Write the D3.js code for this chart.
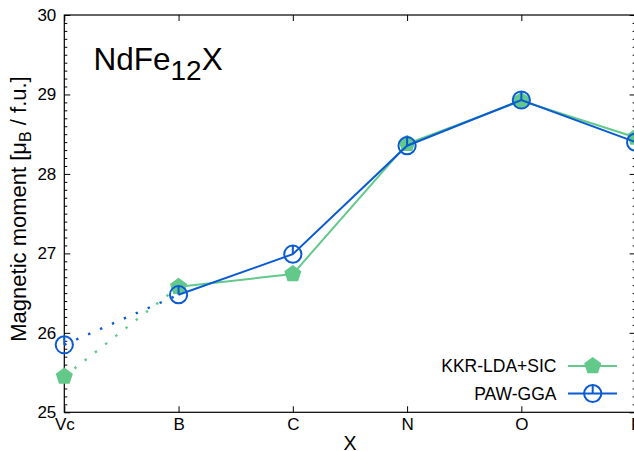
<!DOCTYPE html>
<html>
<head>
<meta charset="utf-8">
<script src="https://cdn.jsdelivr.net/npm/d3@7"></script>
<style>
  html, body { margin: 0; padding: 0; background: #fff; }
  svg { display: block; font-family: "Liberation Sans", Arial, Helvetica, sans-serif; }
</style>
</head>
<body>
<svg id="chart" width="634" height="451"></svg>
<script>
// Substituent X placed in NdFe12X
const categories = ["Vc", "B", "C", "N", "O", "F"];

// Magnetic moment per formula unit (μB / f.u.)
const kkrLdaSic = [25.45, 26.58, 26.74, 28.38, 28.92, 28.46];
const pawGga    = [25.85, 26.48, 26.99, 28.355, 28.93, 28.40];

const yMajorTicks = [25, 26, 27, 28, 29, 30];

const seriesNames = ["KKR-LDA+SIC", "PAW-GGA"];

const GREEN = "#62c98b";
const BLUE = "#0a5ad2";

const svg = d3.select("#chart");
const plotLeft = 64.3, plotRight = 635.6, plotTop = 15, plotBottom = 412.3;

const x = d3.scalePoint().domain(categories).range([plotLeft, plotRight]);
const y = d3.scaleLinear().domain([25, 30]).range([plotBottom, plotTop]);

// minor ticks every 0.1
const yMinorTicks = d3.range(250, 301).map(v => v / 10).filter(v => !yMajorTicks.includes(v));

function styleAxis(g) {
  g.select(".domain").remove();
  g.selectAll(".tick line").attr("stroke", "#000").attr("stroke-width", 1);
  g.selectAll(".tick text").attr("fill", "#000").style("font-size", "17px");
}

// left axis: majors with labels, minors without
svg.append("g").attr("transform", `translate(${plotLeft},0)`)
  .call(d3.axisLeft(y).tickValues(yMajorTicks).tickSize(-6).tickPadding(8).tickFormat(d3.format("d")))
  .call(styleAxis);
svg.append("g").attr("transform", `translate(${plotLeft},0)`)
  .call(d3.axisLeft(y).tickValues(yMinorTicks).tickSize(-3).tickFormat(""))
  .call(styleAxis);

// right axis mirror ticks
svg.append("g").attr("transform", `translate(${plotRight},0)`)
  .call(d3.axisRight(y).tickValues(yMajorTicks).tickSize(-6).tickFormat(""))
  .call(styleAxis);
svg.append("g").attr("transform", `translate(${plotRight},0)`)
  .call(d3.axisRight(y).tickValues(yMinorTicks).tickSize(-3).tickFormat(""))
  .call(styleAxis);

// bottom axis with category labels
svg.append("g").attr("transform", `translate(0,${plotBottom})`)
  .call(d3.axisBottom(x).tickSize(-6).tickPadding(6))
  .call(styleAxis);

// top axis mirror ticks
svg.append("g").attr("transform", `translate(0,${plotTop})`)
  .call(d3.axisTop(x).tickSize(-6).tickFormat(""))
  .call(styleAxis);

// plot frame
svg.append("rect")
  .attr("x", plotLeft).attr("y", plotTop)
  .attr("width", plotRight - plotLeft).attr("height", plotBottom - plotTop)
  .attr("fill", "none").attr("stroke", "#000").attr("stroke-width", 1.2);

// pentagon marker path, point up, centred on (0,0)
function pentagonPath(r) {
  const pts = d3.range(5).map(i => {
    const a = -Math.PI / 2 + i * 2 * Math.PI / 5;
    return [r * Math.cos(a), r * Math.sin(a)];
  });
  return "M" + pts.map(p => p.join(",")).join("L") + "Z";
}

function drawCircleMarker(g, cx, cy) {
  g.append("circle").attr("cx", cx).attr("cy", cy).attr("r", 8.6)
    .attr("fill", "none").attr("stroke", BLUE).attr("stroke-width", 2);
  g.append("line").attr("x1", cx).attr("x2", cx).attr("y1", cy).attr("y2", cy - 8.6)
    .attr("stroke", BLUE).attr("stroke-width", 2);
}

function drawSeries(values, color, marker) {
  const pts = categories.map((c, i) => [x(c), y(values[i])]);
  const line = d3.line();
  const g = svg.append("g");
  // Vc → B is a dotted guide, the rest solid
  g.append("path").attr("d", line(pts.slice(0, 2)))
    .attr("fill", "none").attr("stroke", color).attr("stroke-width", 2.4)
    .attr("stroke-dasharray", "2.4,10.6");
  g.append("path").attr("d", line(pts.slice(1)))
    .attr("fill", "none").attr("stroke", color).attr("stroke-width", 2);
  pts.forEach(([px, py]) => marker(g, px, py));
}

const pentMarker = (g, cx, cy) => g.append("path")
  .attr("d", pentagonPath(9))
  .attr("transform", `translate(${cx},${cy})`)
  .attr("fill", GREEN);

drawSeries(kkrLdaSic, GREEN, pentMarker);
drawSeries(pawGga, BLUE, drawCircleMarker);

// legend
const legend = svg.append("g");
const legendRows = [
  { name: seriesNames[0], color: GREEN, marker: pentMarker, y: 366 },
  { name: seriesNames[1], color: BLUE, marker: drawCircleMarker, y: 393.5 }
];
legendRows.forEach(r => {
  legend.append("text").attr("x", 556.5).attr("y", r.y).attr("dy", "0.35em")
    .attr("text-anchor", "end").style("font-size", "17.5px").attr("fill", "#000")
    .text(r.name);
  legend.append("line").attr("x1", 568).attr("x2", 617).attr("y1", r.y).attr("y2", r.y)
    .attr("stroke", r.color).attr("stroke-width", 2);
  r.marker(legend, 592.7, r.y);
});

// title
const title = svg.append("text").attr("x", 93.5).attr("y", 70)
  .style("font-size", "31.5px").attr("fill", "#000");
title.append("tspan").text("NdFe");
title.append("tspan").attr("dy", 9.5).style("font-size", "28px").text("12");
title.append("tspan").attr("dy", -9.5).text("X");

// axis titles
const yl = svg.append("text")
  .attr("transform", "translate(26,209) rotate(-90)")
  .attr("text-anchor", "middle").style("font-size", "22px").attr("fill", "#000");
yl.append("tspan").text("Magnetic moment [μ");
yl.append("tspan").attr("dy", 5).style("font-size", "16px").text("B");
yl.append("tspan").attr("dy", -5).text(" / f.u.]");

svg.append("text").attr("x", 350).attr("y", 450)
  .attr("text-anchor", "middle").style("font-size", "19.5px").attr("fill", "#000")
  .text("X");
</script>
</body>
</html>
